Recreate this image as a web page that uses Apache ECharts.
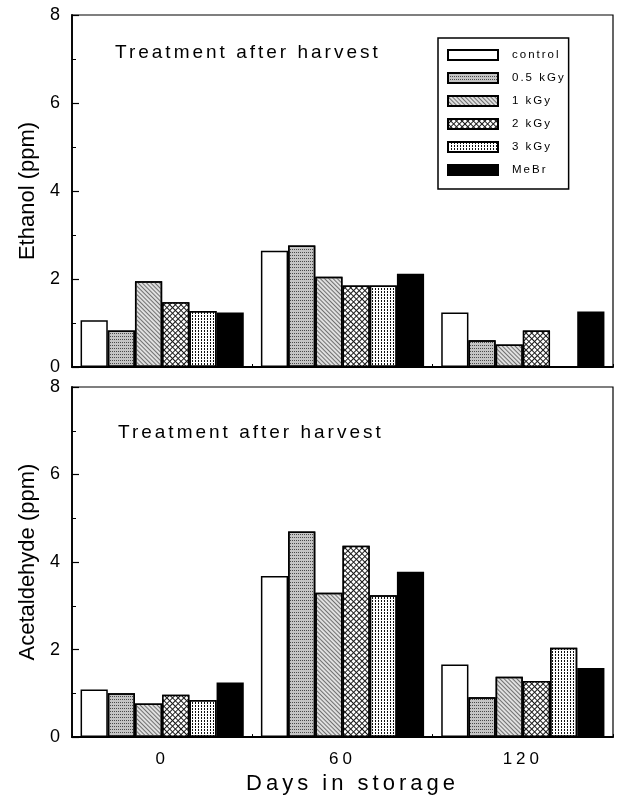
<!DOCTYPE html>
<html>
<head>
<meta charset="utf-8">
<script src="https://cdn.jsdelivr.net/npm/echarts@6/dist/echarts.min.js"></script>
<style>
  html, body { margin: 0; padding: 0; background: #fff; }
  #chart { width: 618px; height: 798px; }
</style>
</head>
<body>
<div id="chart"></div>
<script>
// ---- letter spacing support: a fallback family "lsN" in the font string means N px spacing
(function () {
  var P = CanvasRenderingContext2D.prototype;
  function ls(ctx) { var m = /ls(\d+)/.exec(ctx.font); return m ? m[1] + 'px' : '0px'; }
  ['fillText', 'strokeText', 'measureText'].forEach(function (k) {
    var orig = P[k];
    P[k] = function () {
      if ('letterSpacing' in this) { this.letterSpacing = ls(this); }
      return orig.apply(this, arguments);
    };
  });
})();

// ---- data
var days = ['0', '60', '120'];
var treatments = ['control', '0.5 kGy', '1 kGy', '2 kGy', '3 kGy', 'MeBr'];

var ethanolControl = [1.06, 2.64, 1.24];
var ethanol05 = [0.83, 2.76, 0.61];
var ethanol1 = [1.95, 2.05, 0.51];
var ethanol2 = [1.47, 1.85, 0.83];
var ethanol3 = [1.27, 1.85, null];
var ethanolMeBr = [1.24, 2.12, 1.26];

var acetControl = [1.09, 3.68, 1.66];
var acet05 = [1.00, 4.70, 0.91];
var acet1 = [0.77, 3.30, 1.38];
var acet2 = [0.97, 4.37, 1.28];
var acet3 = [0.85, 3.24, 2.04];
var acetMeBr = [1.25, 3.78, 1.58];

var yTicks = [0, 2, 4, 6, 8];

// ---- styles
var FONT = '"Liberation Sans", Arial';
function spaced(n) { return FONT + ', ls' + n; }

var fills = [
  { color: '#ffffff' },
  { color: '#c4c4c4', decal: { symbol: 'rect', color: '#4a4a4a', dashArrayX: [1, 1], dashArrayY: [1, 2], symbolSize: 1, rotation: 0 } },
  { color: '#e0e0e0', decal: { symbol: 'rect', color: '#707070', dashArrayX: [4, 0], dashArrayY: [1, 2], symbolSize: 1, rotation: Math.PI / 4 } },
  { color: '#1a1a1a', decal: { symbol: 'rect', color: '#ffffff', dashArrayX: [3, 1], dashArrayY: [3, 1], symbolSize: 1, rotation: Math.PI / 4 } },
  { color: '#ffffff', decal: { symbol: 'rect', color: '#111111', dashArrayX: [1, 2], dashArrayY: [2, 1], symbolSize: 1, rotation: 0 } },
  { color: '#000000' }
];

var ethanolSets = [ethanolControl, ethanol05, ethanol1, ethanol2, ethanol3, ethanolMeBr];
var acetSets = [acetControl, acet05, acet1, acet2, acet3, acetMeBr];

var series = [];
function addSeries(sets, idx) {
  sets.forEach(function (vals, i) {
    var st = { color: fills[i].color, borderColor: '#000', borderWidth: 1.5 };
    if (fills[i].decal) st.decal = fills[i].decal;
    series.push({
      type: 'bar',
      name: treatments[i],
      xAxisIndex: idx,
      yAxisIndex: idx,
      data: vals,
      barGap: '0%',
      barCategoryGap: '9.5%',
      itemStyle: st,
      emphasis: { disabled: true },
      animation: false
    });
  });
}
addSeries(ethanolSets, 0);
addSeries(acetSets, 1);

function yAxis(idx, name) {
  return {
    type: 'value', gridIndex: idx, min: yTicks[0], max: yTicks[yTicks.length - 1], interval: 2,
    name: name, nameLocation: 'middle', nameGap: 30,
    nameTextStyle: { fontSize: 22, color: '#000', fontFamily: FONT },
    axisLine: { show: true, lineStyle: { color: '#000', width: 1.8 } },
    axisTick: { show: true, inside: true, length: 7, lineStyle: { color: '#000', width: 1.2 } },
    minorTick: { show: true, splitNumber: 2, length: 4, lineStyle: { color: '#000', width: 1 } },
    splitLine: { show: false },
    axisLabel: { fontSize: 18, color: '#000', margin: 12, fontFamily: FONT }
  };
}
function xAxis(idx, showLabels) {
  var ax = {
    type: 'category', gridIndex: idx, data: days,
    axisLine: { show: true, onZero: false, lineStyle: { color: '#000', width: 1.8 } },
    axisTick: { show: true, inside: true, length: 3, lineStyle: { color: '#000', width: 1 } },
    splitLine: { show: false },
    axisLabel: { show: showLabels, fontSize: 17, color: '#000', margin: 12, fontFamily: spaced(4) }
  };
  if (showLabels) {
    ax.name = 'Days in storage';
    ax.nameLocation = 'middle';
    ax.nameGap = 32;
    ax.nameTextStyle = { fontSize: 22, color: '#000', fontFamily: spaced(4), padding: [0, 0, 0, 20] };
  }
  return ax;
}

var chart = echarts.init(document.getElementById('chart'), null, { renderer: 'canvas' });
chart.setOption({
  animation: false,
  backgroundColor: '#ffffff',
  title: [
    { text: 'Treatment after harvest', left: 115, top: 42, padding: 0,
      textStyle: { fontSize: 19, fontWeight: 'normal', color: '#000', fontFamily: spaced(3) } },
    { text: 'Treatment after harvest', left: 118, top: 422, padding: 0,
      textStyle: { fontSize: 19, fontWeight: 'normal', color: '#000', fontFamily: spaced(3) } }
  ],
  legend: {
    data: treatments,
    orient: 'vertical',
    left: 438, top: 38,
    padding: [10, 3, 12, 9],
    borderColor: '#000', borderWidth: 1.5,
    backgroundColor: '#fff',
    itemWidth: 50, itemHeight: 10, itemGap: 9,
    icon: 'rect',
    selectedMode: false,
    textStyle: { fontSize: 11.5, color: '#000', fontFamily: spaced(2), padding: [0, 0, 0, 9] }
  },
  grid: [
    { left: 72, right: 5, top: 15, height: 352, show: true, borderColor: '#000', borderWidth: 1.2, backgroundColor: 'transparent' },
    { left: 72, right: 5, top: 387, height: 353, show: true, borderColor: '#000', borderWidth: 1.2, backgroundColor: 'transparent' }
  ],
  xAxis: [xAxis(0, false), xAxis(1, true)],
  yAxis: [yAxis(0, 'Ethanol (ppm)'), yAxis(1, 'Acetaldehyde (ppm)')],
  series: series
});
</script>
</body>
</html>
